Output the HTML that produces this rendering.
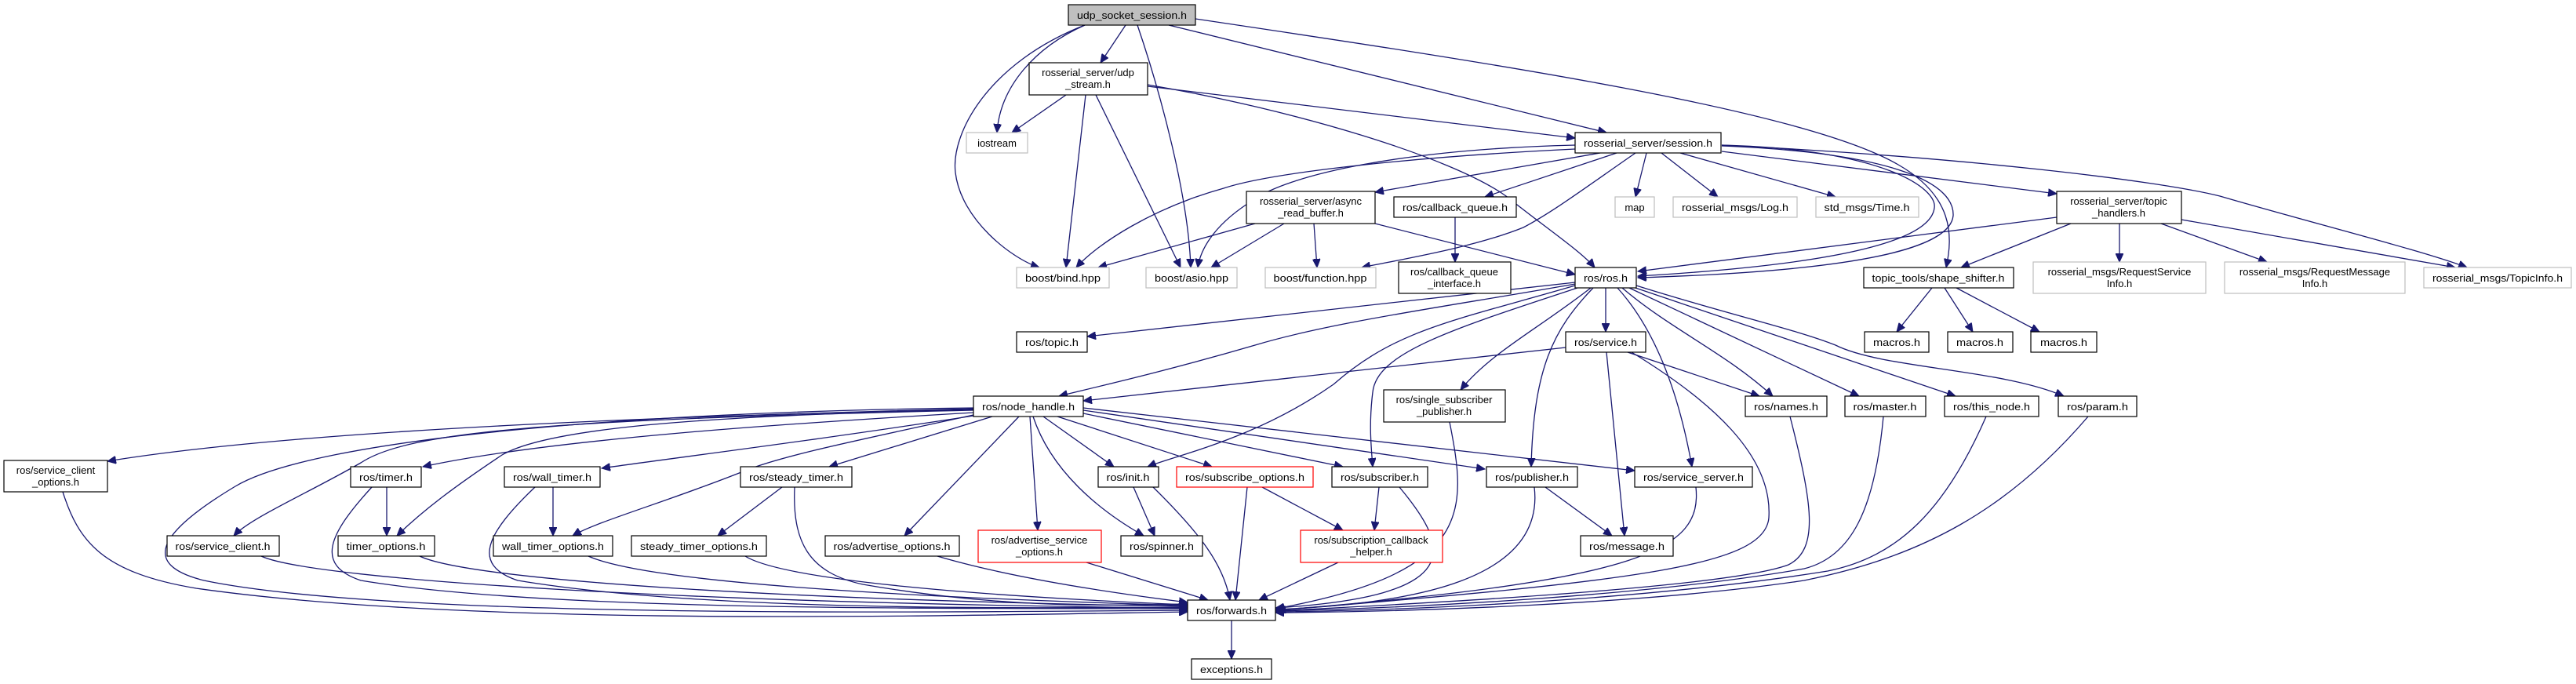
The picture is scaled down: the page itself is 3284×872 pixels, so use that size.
<!DOCTYPE html>
<html><head><meta charset="utf-8"><style>
html,body{margin:0;padding:0;background:#fff;}
svg{display:block}
text{font-family:"Liberation Sans",sans-serif;font-size:13px;fill:#000;text-anchor:middle}
.e{fill:none;stroke:#191970;stroke-width:1.3}
.n{fill:#fff;stroke:#000;stroke-width:1.2}
.g{fill:#fff;stroke:#bfbfbf;stroke-width:1.2}
.r{fill:#fff;stroke:#ff0000;stroke-width:1.2}
.s{fill:none;stroke:#555;stroke-width:1.5}
</style></head><body>
<svg width="3284" height="872" viewBox="0 0 3284 872" xmlns="http://www.w3.org/2000/svg">
<defs><marker id="a" markerUnits="userSpaceOnUse" markerWidth="12" markerHeight="10" refX="11" refY="5" orient="auto"><path d="M0,0 L11,5 L0,10 z" fill="#191970" stroke="#191970"/></marker></defs>
<g marker-end="url(#a)">
<path class="e" d="M1435,32 L1403,80"/>
<path class="e" d="M1383,32 C1320,60 1275,110 1271,169"/>
<path class="e" d="M1383,32 C1260,80 1212,170 1218,220 C1225,280 1290,330 1325,341"/>
<path class="e" d="M1450,32 C1480,120 1515,250 1518,341"/>
<path class="e" d="M1490,32 L2048,169"/>
<path class="e" d="M1524,24 C1900,80 2300,140 2420,210 C2490,250 2490,300 2481,341"/>
<path class="e" d="M1359,121 L1290,169"/>
<path class="e" d="M1384,121 L1359,341"/>
<path class="e" d="M1397,121 L1505,341"/>
<path class="e" d="M1463,110 L2008,176"/>
<path class="e" d="M1463,108 C1650,140 1850,200 1920,250 C1970,290 2015,320 2033,341"/>
<path class="e" d="M2195,185 C2400,190 2470,240 2466,265 C2462,300 2380,335 2088,352"/>
<path class="e" d="M2195,186 C2420,195 2492,235 2490,275 C2486,315 2380,345 2088,354"/>
<path class="e" d="M2195,185 C2500,200 2750,230 2830,250 C2950,285 3090,320 3145,341"/>
<path class="e" d="M2195,193 L2622,247"/>
<path class="e" d="M2622,277 L2088,346"/>
<path class="e" d="M2640,285 L2500,341"/>
<path class="e" d="M2702,285 L2702,334"/>
<path class="e" d="M2755,285 L2890,334"/>
<path class="e" d="M2781,280 L3130,341"/>
<path class="e" d="M2099,195 L2085,251"/>
<path class="e" d="M2118,195 L2190,251"/>
<path class="e" d="M2142,195 L2340,251"/>
<path class="e" d="M2463,367 L2418,423"/>
<path class="e" d="M2479,367 L2515,423"/>
<path class="e" d="M2494,367 L2600,423"/>
<path class="e" d="M2040,195 L1753,245"/>
<path class="e" d="M2061,195 L1893,251"/>
<path class="e" d="M2085,195 C2020,240 1980,270 1942,290 C1880,315 1790,330 1736,341"/>
<path class="e" d="M2008,185 C1800,190 1640,220 1590,260 C1545,290 1530,320 1527,341"/>
<path class="e" d="M2008,190 C1800,200 1620,220 1560,240 C1470,265 1400,310 1372,341"/>
<path class="e" d="M1600,285 L1400,341"/>
<path class="e" d="M1637,285 L1544,341"/>
<path class="e" d="M1675,285 L1679,341"/>
<path class="e" d="M1753,285 L2008,350"/>
<path class="e" d="M1855,277 L1855,334"/>
<path class="e" d="M2008,360 L1386,429"/>
<path class="e" d="M2008,362 C1850,390 1700,410 1600,440 C1480,475 1390,495 1350,505"/>
<path class="e" d="M2008,364 C1850,410 1780,420 1700,490 C1600,560 1500,580 1463,595"/>
<path class="e" d="M2011,367 C1850,420 1755,450 1750,500 C1745,540 1748,570 1750,595"/>
<path class="e" d="M2028,367 C1960,420 1900,450 1862,497"/>
<path class="e" d="M2031,367 C1980,420 1955,470 1952,595"/>
<path class="e" d="M2047,367 L2047,423"/>
<path class="e" d="M2062,367 C2110,420 2140,500 2157,595"/>
<path class="e" d="M2068,367 C2130,420 2200,450 2260,505"/>
<path class="e" d="M2077,367 L2370,505"/>
<path class="e" d="M2082,366 L2493,505"/>
<path class="e" d="M2086,364 C2200,400 2290,420 2340,440 C2400,470 2550,470 2631,505"/>
<path class="e" d="M1996,443 L1381,511"/>
<path class="e" d="M2075,449 L2243,505"/>
<path class="e" d="M2048,449 L2071,683"/>
<path class="e" d="M2080,449 C2180,510 2260,580 2255,660 C2250,720 2100,740 1628,778"/>
<path class="e" d="M1330,531 L1420,595"/>
<path class="e" d="M1348,531 L1545,595"/>
<path class="e" d="M1381,527 L1712,595"/>
<path class="e" d="M1381,523 L1893,598"/>
<path class="e" d="M1381,520 L2084,600"/>
<path class="e" d="M1317,531 C1340,600 1400,650 1458,683"/>
<path class="e" d="M1313,531 L1323,676"/>
<path class="e" d="M1299,531 L1153,683"/>
<path class="e" d="M1241,521 C900,530 400,545 137,588"/>
<path class="e" d="M1241,523 C700,535 520,550 460,590 C390,630 320,660 298,683"/>
<path class="e" d="M1241,526 C1000,540 700,560 539,595"/>
<path class="e" d="M1241,522 C900,530 700,545 640,580 C580,620 540,650 506,683"/>
<path class="e" d="M1241,530 C1050,560 850,585 767,597"/>
<path class="e" d="M1241,529 C1100,560 1000,580 950,600 C850,640 760,665 730,683"/>
<path class="e" d="M1265,531 L1057,595"/>
<path class="e" d="M1241,520 C800,525 400,560 300,620 C200,680 180,720 260,740 C500,790 1200,780 1514,778"/>
<path class="e" d="M80,627 C100,690 130,730 250,750 C600,800 1200,785 1514,780"/>
<path class="e" d="M333,709 C400,740 900,770 1514,775"/>
<path class="e" d="M474,621 C420,680 400,720 460,740 C700,780 1200,775 1514,776"/>
<path class="e" d="M535,709 C600,740 1000,765 1514,773"/>
<path class="e" d="M682,621 C620,680 600,720 660,740 C900,780 1300,775 1514,774"/>
<path class="e" d="M750,709 C820,740 1100,760 1514,772"/>
<path class="e" d="M950,709 C1000,740 1250,760 1514,771"/>
<path class="e" d="M1013,621 C1010,690 1030,730 1100,745 C1300,780 1450,770 1514,770"/>
<path class="e" d="M1195,709 C1300,740 1450,760 1514,768"/>
<path class="e" d="M493,621 L493,683"/>
<path class="e" d="M705,621 L705,683"/>
<path class="e" d="M997,621 L915,683"/>
<path class="e" d="M1385,717 L1540,765"/>
<path class="e" d="M1445,621 L1472,683"/>
<path class="e" d="M1470,621 C1530,680 1560,720 1568,765"/>
<path class="e" d="M1590,621 L1575,765"/>
<path class="e" d="M1609,621 L1712,676"/>
<path class="e" d="M1758,621 L1752,676"/>
<path class="e" d="M1706,717 L1605,765"/>
<path class="e" d="M1784,621 C1850,700 1870,760 1626,775"/>
<path class="e" d="M1848,538 C1870,650 1880,730 1626,776"/>
<path class="e" d="M1956,621 C1970,740 1800,770 1626,777"/>
<path class="e" d="M1970,621 L2055,683"/>
<path class="e" d="M2162,621 C2170,700 2100,740 1626,778"/>
<path class="e" d="M2282,531 C2310,640 2320,700 2280,720 C2200,750 1800,770 1626,779"/>
<path class="e" d="M2401,531 C2390,650 2360,710 2300,725 C2100,760 1800,775 1626,779"/>
<path class="e" d="M2532,531 C2480,650 2420,710 2330,728 C2100,765 1800,778 1626,780"/>
<path class="e" d="M2662,531 C2560,650 2450,710 2300,740 C2100,770 1800,780 1626,781"/>
<path class="e" d="M1570,791 L1570,840"/>
</g>
<!-- nodes -->
<rect x="1362" y="6" width="162" height="26" fill="#bfbfbf" stroke="#000" stroke-width="1.2"/><text x="1443" y="24" textLength="140" lengthAdjust="spacingAndGlyphs">udp_socket_session.h</text>
<rect class="n" x="1312" y="80" width="151" height="41"/><text x="1387" y="97">rosserial_server/udp</text><text x="1387" y="112">_stream.h</text>
<rect class="g" x="1232" y="169" width="78" height="26"/><text x="1271" y="187">iostream</text>
<rect class="n" x="2008" y="169" width="186" height="26"/><text x="2101" y="187" textLength="164" lengthAdjust="spacingAndGlyphs">rosserial_server/session.h</text>
<rect class="n" x="1589" y="244" width="164" height="41"/><text x="1671" y="261">rosserial_server/async</text><text x="1671" y="276">_read_buffer.h</text>
<rect class="n" x="1777" y="251" width="156" height="26"/><text x="1855" y="269" textLength="134" lengthAdjust="spacingAndGlyphs">ros/callback_queue.h</text>
<rect class="g" x="2059" y="251" width="50" height="26"/><text x="2084" y="269">map</text>
<rect class="g" x="2133" y="251" width="158" height="26"/><text x="2212" y="269" textLength="136" lengthAdjust="spacingAndGlyphs">rosserial_msgs/Log.h</text>
<rect class="g" x="2315" y="251" width="131" height="26"/><text x="2380" y="269" textLength="109" lengthAdjust="spacingAndGlyphs">std_msgs/Time.h</text>
<rect class="n" x="2622" y="244" width="159" height="41"/><text x="2701" y="261">rosserial_server/topic</text><text x="2701" y="276">_handlers.h</text>
<rect class="g" x="1296" y="341" width="118" height="26"/><text x="1355" y="359" textLength="96" lengthAdjust="spacingAndGlyphs">boost/bind.hpp</text>
<rect class="g" x="1461" y="341" width="116" height="26"/><text x="1519" y="359" textLength="94" lengthAdjust="spacingAndGlyphs">boost/asio.hpp</text>
<rect class="g" x="1613" y="341" width="141" height="26"/><text x="1683" y="359" textLength="119" lengthAdjust="spacingAndGlyphs">boost/function.hpp</text>
<rect class="n" x="1783" y="334" width="143" height="40"/><text x="1854" y="351">ros/callback_queue</text><text x="1854" y="366">_interface.h</text>
<rect class="n" x="2008" y="341" width="78" height="26"/><text x="2047" y="359" textLength="56" lengthAdjust="spacingAndGlyphs">ros/ros.h</text>
<rect class="n" x="2376" y="341" width="191" height="26"/><text x="2471" y="359" textLength="169" lengthAdjust="spacingAndGlyphs">topic_tools/shape_shifter.h</text>
<rect class="g" x="2592" y="334" width="220" height="40"/><text x="2702" y="351">rosserial_msgs/RequestService</text><text x="2702" y="366">Info.h</text>
<rect class="g" x="2836" y="334" width="230" height="40"/><text x="2951" y="351">rosserial_msgs/RequestMessage</text><text x="2951" y="366">Info.h</text>
<rect class="g" x="3090" y="341" width="188" height="26"/><text x="3184" y="359" textLength="166" lengthAdjust="spacingAndGlyphs">rosserial_msgs/TopicInfo.h</text>
<rect class="n" x="1296" y="423" width="90" height="26"/><text x="1341" y="441" textLength="68" lengthAdjust="spacingAndGlyphs">ros/topic.h</text>
<rect class="n" x="1996" y="423" width="102" height="26"/><text x="2047" y="441" textLength="80" lengthAdjust="spacingAndGlyphs">ros/service.h</text>
<rect class="n" x="2377" y="423" width="82" height="26"/><text x="2418" y="441" textLength="60" lengthAdjust="spacingAndGlyphs">macros.h</text>
<rect class="n" x="2483" y="423" width="83" height="26"/><text x="2524" y="441" textLength="60" lengthAdjust="spacingAndGlyphs">macros.h</text>
<rect class="n" x="2589" y="423" width="84" height="26"/><text x="2631" y="441" textLength="60" lengthAdjust="spacingAndGlyphs">macros.h</text>
<rect class="n" x="1241" y="505" width="140" height="26"/><text x="1311" y="523" textLength="118" lengthAdjust="spacingAndGlyphs">ros/node_handle.h</text>
<rect class="n" x="1764" y="497" width="155" height="41"/><text x="1841" y="514">ros/single_subscriber</text><text x="1841" y="529">_publisher.h</text>
<rect class="n" x="2225" y="505" width="104" height="26"/><text x="2277" y="523" textLength="82" lengthAdjust="spacingAndGlyphs">ros/names.h</text>
<rect class="n" x="2352" y="505" width="103" height="26"/><text x="2403" y="523" textLength="81" lengthAdjust="spacingAndGlyphs">ros/master.h</text>
<rect class="n" x="2479" y="505" width="120" height="26"/><text x="2539" y="523" textLength="98" lengthAdjust="spacingAndGlyphs">ros/this_node.h</text>
<rect class="n" x="2624" y="505" width="100" height="26"/><text x="2674" y="523" textLength="78" lengthAdjust="spacingAndGlyphs">ros/param.h</text>
<rect class="n" x="5" y="587" width="132" height="40"/><text x="71" y="604">ros/service_client</text><text x="71" y="619">_options.h</text>
<rect class="n" x="447" y="595" width="90" height="26"/><text x="492" y="613" textLength="68" lengthAdjust="spacingAndGlyphs">ros/timer.h</text>
<rect class="n" x="643" y="595" width="122" height="26"/><text x="704" y="613" textLength="100" lengthAdjust="spacingAndGlyphs">ros/wall_timer.h</text>
<rect class="n" x="944" y="595" width="142" height="26"/><text x="1015" y="613" textLength="120" lengthAdjust="spacingAndGlyphs">ros/steady_timer.h</text>
<rect class="n" x="1400" y="595" width="77" height="26"/><text x="1438" y="613" textLength="55" lengthAdjust="spacingAndGlyphs">ros/init.h</text>
<rect class="r" x="1500" y="595" width="174" height="26"/><text x="1587" y="613" textLength="152" lengthAdjust="spacingAndGlyphs">ros/subscribe_options.h</text>
<rect class="n" x="1698" y="595" width="122" height="26"/><text x="1759" y="613" textLength="100" lengthAdjust="spacingAndGlyphs">ros/subscriber.h</text>
<rect class="n" x="1895" y="595" width="116" height="26"/><text x="1953" y="613" textLength="94" lengthAdjust="spacingAndGlyphs">ros/publisher.h</text>
<rect class="n" x="2084" y="595" width="150" height="26"/><text x="2159" y="613" textLength="128" lengthAdjust="spacingAndGlyphs">ros/service_server.h</text>
<rect class="n" x="213" y="683" width="143" height="26"/><text x="284" y="701" textLength="121" lengthAdjust="spacingAndGlyphs">ros/service_client.h</text>
<rect class="n" x="431" y="683" width="123" height="26"/><text x="492" y="701" textLength="101" lengthAdjust="spacingAndGlyphs">timer_options.h</text>
<rect class="n" x="629" y="683" width="152" height="26"/><text x="705" y="701" textLength="130" lengthAdjust="spacingAndGlyphs">wall_timer_options.h</text>
<rect class="n" x="805" y="683" width="172" height="26"/><text x="891" y="701" textLength="150" lengthAdjust="spacingAndGlyphs">steady_timer_options.h</text>
<rect class="n" x="1052" y="683" width="171" height="26"/><text x="1137" y="701" textLength="149" lengthAdjust="spacingAndGlyphs">ros/advertise_options.h</text>
<rect class="r" x="1247" y="676" width="157" height="41"/><text x="1325" y="693">ros/advertise_service</text><text x="1325" y="708">_options.h</text>
<rect class="n" x="1429" y="683" width="104" height="26"/><text x="1481" y="701" textLength="82" lengthAdjust="spacingAndGlyphs">ros/spinner.h</text>
<rect class="r" x="1658" y="676" width="181" height="41"/><text x="1748" y="693">ros/subscription_callback</text><text x="1748" y="708">_helper.h</text>
<rect class="n" x="2015" y="683" width="118" height="26"/><text x="2074" y="701" textLength="96" lengthAdjust="spacingAndGlyphs">ros/message.h</text>
<rect class="n" x="1514" y="765" width="112" height="26"/><text x="1570" y="783" textLength="90" lengthAdjust="spacingAndGlyphs">ros/forwards.h</text>
<rect class="n" x="1519" y="840" width="102" height="26"/><text x="1570" y="858" textLength="80" lengthAdjust="spacingAndGlyphs">exceptions.h</text>
</svg>
</body></html>
